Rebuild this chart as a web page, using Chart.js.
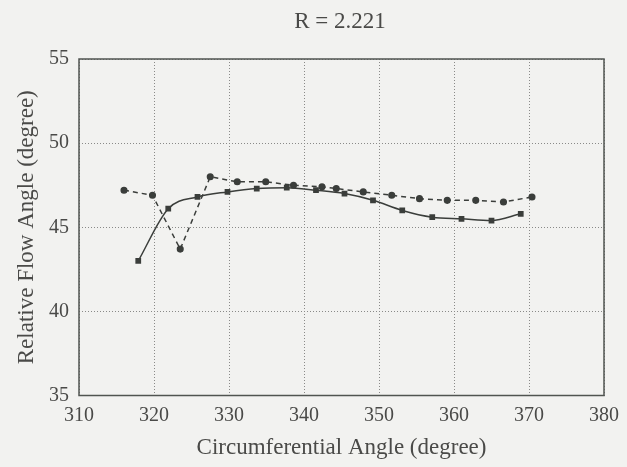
<!DOCTYPE html>
<html>
<head>
<meta charset="utf-8">
<script src="https://cdn.jsdelivr.net/npm/chart.js@4"></script>
<style>
  html, body { margin: 0; padding: 0; background: #f2f2f0; }
  canvas { display: block; }
</style>
</head>
<body>
<canvas id="chart" width="627" height="467"></canvas>
<script>
// Values
const titleText = "R = 2.221";
const xTitle = "Circumferential Angle (degree)";
const yTitle = "Relative Flow Angle (degree)";

const solidX = [317.9, 321.9, 325.8, 329.8, 333.7, 337.7, 341.6, 345.4, 349.2, 353.1, 357.1, 361.0, 365.0, 368.9];
const solidY = [43.0, 46.1, 46.8, 47.1, 47.3, 47.35, 47.2, 47.0, 46.6, 46.0, 45.6, 45.5, 45.4, 45.8];

const dashedX = [316.0, 319.8, 323.5, 327.5, 331.1, 334.9, 338.6, 342.4, 344.3, 347.9, 351.7, 355.4, 359.1, 362.9, 366.6, 370.4];
const dashedY = [47.2, 46.9, 43.7, 48.0, 47.7, 47.7, 47.5, 47.4, 47.3, 47.1, 46.9, 46.7, 46.6, 46.6, 46.5, 46.8];

const xMin = 310, xMax = 380, xStep = 10;
const yMin = 35, yMax = 55, yStep = 5;

const ink = "#3b3e3b";
const textInk = "#4a4a48";
const serif = "'Liberation Serif', 'DejaVu Serif', serif";

function toPoints(xs, ys) {
    return xs.map((x, i) => ({ x: x, y: ys[i] }));
}

// paper background, box round the plot and the title text
const paperPlugin = {
    id: "paper",
    beforeDraw(chart) {
        const ctx = chart.ctx;
        ctx.save();
        ctx.fillStyle = "#f2f2f0";
        ctx.fillRect(0, 0, chart.width, chart.height);
        ctx.restore();
    },
    afterDraw(chart) {
        const { ctx, chartArea: a } = chart;
        ctx.save();
        ctx.strokeStyle = "#505450";
        ctx.lineWidth = 1.5;
        ctx.strokeRect(a.left, a.top, a.right - a.left, a.bottom - a.top);
        ctx.fillStyle = textInk;
        ctx.font = "23px " + serif;
        ctx.textAlign = "center";
        ctx.textBaseline = "middle";
        ctx.fillText(titleText, 340, 22);
        ctx.restore();
    }
};

new Chart("chart", {
    type: "line",
    data: {
        datasets: [
            {
                data: toPoints(solidX, solidY),
                borderColor: ink,
                backgroundColor: ink,
                borderWidth: 1.5,
                pointStyle: "rect",
                pointRadius: 3,
                cubicInterpolationMode: "monotone",
                fill: false,
            },
            {
                data: toPoints(dashedX, dashedY),
                borderColor: ink,
                backgroundColor: ink,
                borderWidth: 1.5,
                borderDash: [5, 4],
                pointStyle: "circle",
                pointRadius: 2.8,
                tension: 0,
                fill: false,
            },
        ],
    },
    options: {
        responsive: false,
        animation: false,
        layout: { padding: { top: 59, right: 17, left: 0, bottom: 0 } },
        plugins: {
            legend: { display: false },
            tooltip: { enabled: false },
        },
        scales: {
            x: {
                type: "linear",
                min: xMin,
                max: xMax,
                afterFit: s => { s.height = 71.5; },
                ticks: {
                    stepSize: xStep,
                    padding: 8,
                    color: textInk,
                    font: { family: serif, size: 20 },
                },
                grid: { color: "#8a8a88", lineWidth: 1, drawTicks: false },
                border: { display: false, dash: [1, 2] },
                title: {
                    display: true,
                    text: xTitle,
                    color: textInk,
                    font: { family: serif, size: 23 },
                    padding: { top: 0, bottom: 5 },
                },
            },
            y: {
                min: yMin,
                max: yMax,
                afterFit: s => { s.width = 79; },
                ticks: {
                    stepSize: yStep,
                    padding: 10,
                    color: textInk,
                    font: { family: serif, size: 20 },
                },
                grid: { color: "#8a8a88", lineWidth: 1, drawTicks: false },
                border: { display: false, dash: [1, 2] },
                title: {
                    display: true,
                    text: yTitle,
                    color: textInk,
                    font: { family: serif, size: 23 },
                    padding: { top: 13, bottom: 0 },
                },
            },
        },
    },
    plugins: [paperPlugin],
});
</script>
</body>
</html>
